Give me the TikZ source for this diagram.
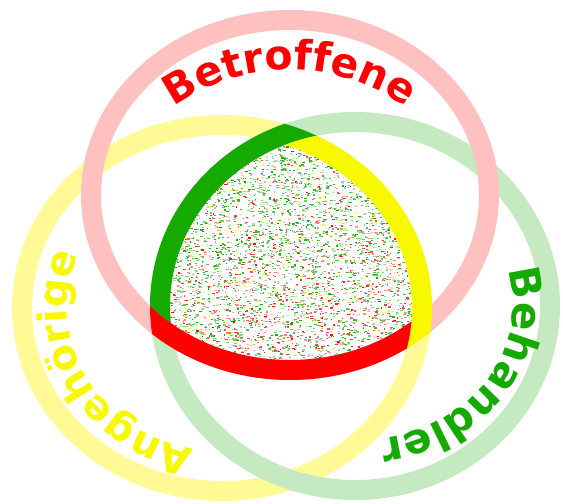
\documentclass[tikz,border=0pt]{standalone}
\usepackage{fontspec}
\newfontfamily\lblfont{DejaVu Sans}
\usetikzlibrary{decorations.text}
\definecolor{pinkring}{RGB}{255,192,192}
\definecolor{yelring}{RGB}{255,250,150}
\definecolor{grnring}{RGB}{197,233,192}
\definecolor{redband}{RGB}{255,0,0}
\definecolor{yelband}{RGB}{248,248,0}
\definecolor{grnband}{RGB}{20,170,0}
\begin{document}
\begin{tikzpicture}[x=1pt,y=1pt,
  ring/.style={line width=20pt},
  lbl/.style={decorate, decoration={text along path, text align=center, text={#1}}}]
\useasboundingbox (0,0) rectangle (563,504);
\coordinate (P) at (290,309);
\coordinate (Y) at (222,196);
\coordinate (G) at (355,198);
\coordinate (T) at (290,234);
% light rings
\draw[ring, yelring] (Y) ellipse[x radius=200, y radius=183];
\draw[ring, grnring] (G) ellipse[x radius=195, y radius=184];
\draw[ring, pinkring] (P) ellipse[x radius=199, y radius=175];
% green band
\begin{scope}
  \clip (Y) ellipse[x radius=210, y radius=193];
  \clip (P) ellipse[x radius=189, y radius=165];
  \draw[ring, grnband] (G) ellipse[x radius=195, y radius=184];
\end{scope}
% yellow band
\begin{scope}
  \clip (P) ellipse[x radius=209, y radius=185];
  \clip (G) ellipse[x radius=185, y radius=174];
  \draw[ring, yelband] (Y) ellipse[x radius=200, y radius=183];
\end{scope}
% red band
\begin{scope}
  \clip (G) ellipse[x radius=205, y radius=194];
  \clip (Y) ellipse[x radius=190, y radius=173];
  \draw[ring, redband] (P) ellipse[x radius=199, y radius=175];
\end{scope}
% speckled centre
\begin{scope}
  \clip (P) ellipse[x radius=189, y radius=165];
  \clip (Y) ellipse[x radius=190, y radius=173];
  \clip (G) ellipse[x radius=185, y radius=174];
  \pgfmathsetseed{7}
  \foreach \i in {1,...,7000}{
    \pgfmathsetmacro\px{148+286*rnd}
    \pgfmathsetmacro\py{120+262*rnd}
    \pgfmathsetmacro\myt{(\py-120)/262}
    \pgfmathsetmacro\rr{rnd}
    \pgfmathtruncatemacro\cls{\rr<0.45+0.4*\myt ? 1 : (\rr<0.92 ? 2 : 3)}
    \pgfmathtruncatemacro\sh{25+75*rnd}
    \pgfmathsetmacro\myw{1+2*rnd}
    \ifcase\cls\or\def\mycol{grnband}\or\def\mycol{redband}\or\def\mycol{yelband}\fi
    \fill[\mycol!\sh!white] (\px,\py) rectangle ++(\myw,1.2);
  }
\end{scope}
% labels
\path[lbl={|\lblfont\bfseries\fontsize{41}{44}\selectfont\color{redband}|Betroffene}]
  (T) ++(170:200) arc[start angle=170, end angle=10, radius=200];
\path[lbl={|\lblfont\bfseries\fontsize{40}{44}\selectfont\color{yelband}|Angehörige}]
  (Y) ++(306:155 and 143) arc[start angle=306, end angle=110, x radius=155, y radius=143];
\path[lbl={|\lblfont\bfseries\fontsize{42}{44}\selectfont\color{grnband}|Behandler}]
  (G) ++(64:158 and 135) arc[start angle=64, end angle=-126, x radius=158, y radius=135];
\end{tikzpicture}
\end{document}
